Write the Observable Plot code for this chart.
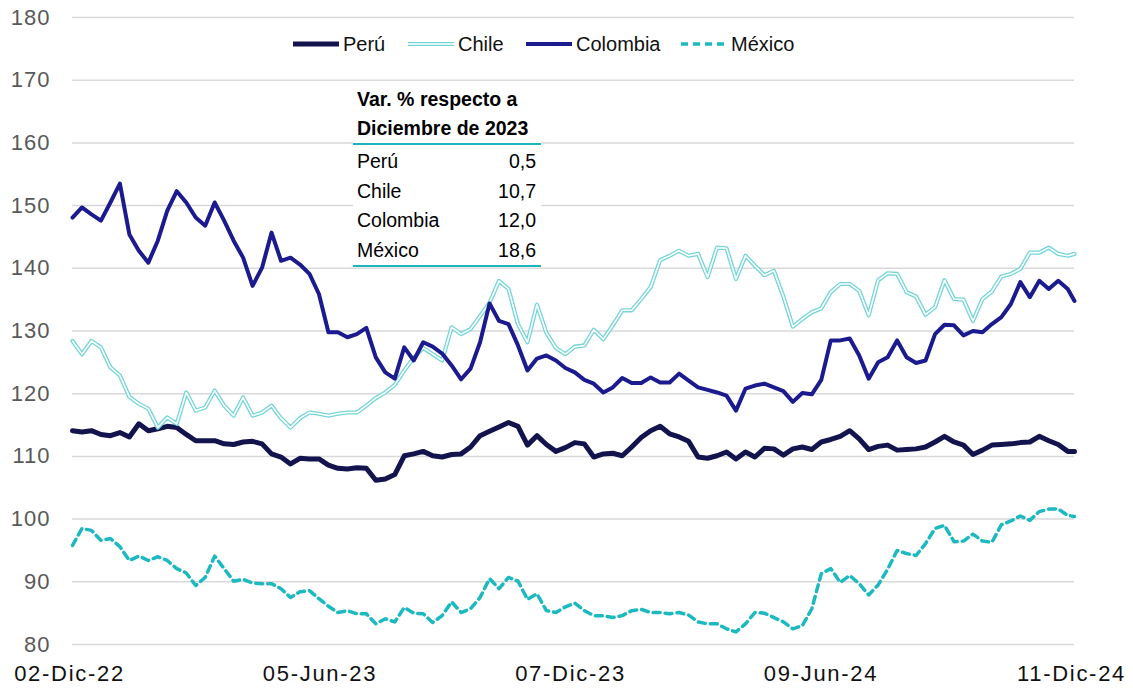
<!DOCTYPE html>
<html>
<head>
<meta charset="utf-8">
<script src="https://cdn.jsdelivr.net/npm/d3@7"></script>
<script src="https://cdn.jsdelivr.net/npm/@observablehq/plot@0.6"></script>
<style>
  body { margin: 0; background: #fff; font-family: "Liberation Sans", Arial, sans-serif; }
  #wrap { position: relative; width: 1133px; height: 688px; overflow: hidden; }
  #legend { position: absolute; top: 31px; left: 0; height: 26px; width: 1133px; }
  .li { position: absolute; top: 0; height: 26px; display: flex; align-items: center; font-size: 20px; color: #111; }
  .li svg { margin-right: 4px; }
  #tabla { position: absolute; left: 353px; top: 85px; width: 188px; background: #fff; color: #000; font-size: 19.5px; }
  #tabla .tit { font-weight: bold; line-height: 29px; padding-left: 4px; border-bottom: 2px solid #1CB5BD; }
  #tabla .rows { padding-top: 2px; border-bottom: 2px solid #1CB5BD; }
  #tabla .row { display: flex; justify-content: space-between; line-height: 29.5px; padding: 0 5px 0 4px; }
  svg g[aria-label="y-axis tick label"] text { fill: #595959; letter-spacing: 1px; }
  svg g[aria-label="x-axis tick label"] text { fill: #111; letter-spacing: 1.7px; }
</style>
</head>
<body>
<div id="wrap">
  <div id="chart"></div>
  <div id="legend"></div>
  <div id="tabla"></div>
</div>
<script>
// ---- Data (weekly readings from 02-Dic-22, plus final point 11-Dic-24) ----
const startDate = "2022-12-02";
const endDate = "2024-12-11";

const peru = [114.1,113.9,114.1,113.5,113.3,113.8,113.1,115.2,114.1,114.4,
  114.8,114.6,113.5,112.5,112.5,112.5,112.0,111.9,112.3,112.4,
  112.0,110.4,109.9,108.8,109.7,109.6,109.6,108.6,108.1,108.0,
  108.2,108.1,106.2,106.4,107.1,110.1,110.4,110.8,110.1,109.9,
  110.3,110.4,111.5,113.3,114.0,114.7,115.4,114.8,111.8,113.3,
  111.9,110.8,111.4,112.2,112.0,109.9,110.4,110.5,110.1,111.5,
  113.0,114.1,114.8,113.6,113.1,112.4,109.9,109.7,110.1,110.7,
  109.6,110.7,109.9,111.3,111.2,110.2,111.2,111.5,111.1,112.3,
  112.7,113.2,114.1,112.8,111.1,111.6,111.8,111.0,111.1,111.2,
  111.5,112.3,113.2,112.3,111.8,110.3,111.0,111.8,111.9,112.0,
  112.2,112.3,113.2,112.5,111.9,110.8,110.8];

const chile = [128.4,126.3,128.4,127.4,124.2,122.9,119.5,118.4,117.6,114.6,
  116.2,115.2,120.2,117.3,117.8,120.5,118.1,116.5,119.4,116.5,
  117.0,118.1,116.1,114.6,116.1,117.0,116.8,116.5,116.8,117.0,
  117.0,118.1,119.3,120.2,121.4,123.7,125.7,127.3,126.3,125.3,
  130.6,129.5,130.3,132.4,134.5,138.0,136.7,131.1,128.2,134.2,
  129.7,127.3,126.3,127.5,127.7,130.2,128.7,130.9,133.3,133.3,
  135.1,137.0,141.3,142.0,142.8,142.0,142.3,138.6,143.3,143.2,
  138.3,142.0,140.4,138.9,139.6,135.5,130.7,131.9,133.0,133.6,
  136.2,137.5,137.5,136.4,132.5,138.1,139.2,139.1,136.2,135.5,
  132.6,133.8,138.1,135.1,135.0,131.6,135.1,136.3,138.7,139.1,
  139.9,142.5,142.5,143.3,142.3,142.0,142.3];

const colombia = [148.1,149.7,148.6,147.6,150.5,153.5,145.4,142.8,140.9,144.4,
  149.2,152.3,150.5,148.1,146.8,150.5,147.6,144.4,141.7,137.2,
  140.1,145.7,141.2,141.7,140.6,139.1,135.9,129.8,129.8,129.0,
  129.5,130.5,125.8,123.4,122.4,127.4,125.3,128.2,127.5,126.4,
  124.5,122.3,124.0,128.2,134.4,131.6,131.1,127.7,123.7,125.6,
  126.1,125.3,124.1,123.4,122.2,121.6,120.2,121.0,122.5,121.7,
  121.7,122.6,121.8,121.8,123.2,122.1,121.0,120.6,120.2,119.7,
  117.3,120.8,121.3,121.6,121.0,120.4,118.7,120.1,119.9,122.2,
  128.5,128.5,128.8,126.1,122.4,125.0,125.8,128.5,125.8,124.9,
  125.3,129.5,131.0,130.9,129.3,130.0,129.8,131.1,132.2,134.3,
  137.8,135.4,138.0,136.7,138.0,136.7,134.8];

const mexico = [95.8,98.5,98.2,96.6,96.9,95.6,93.4,94.1,93.4,94.0,
  93.4,92.1,91.4,89.4,90.7,94.1,92.1,90.1,90.4,89.8,
  89.7,89.7,88.9,87.5,88.4,88.6,87.3,86.1,85.1,85.4,
  84.9,84.9,83.3,84.1,83.6,85.9,85.0,84.9,83.5,84.6,
  86.8,85.1,85.7,87.5,90.5,88.9,90.7,90.1,87.2,88.1,
  85.4,85.1,86.0,86.6,85.4,84.6,84.6,84.3,84.6,85.4,
  85.6,85.1,85.1,84.9,85.1,84.7,83.6,83.3,83.3,82.5,
  82.0,83.3,85.1,85.0,84.3,83.6,82.5,83.0,85.7,91.3,
  92.1,89.9,91.0,89.7,87.9,89.5,92.0,95.0,94.5,94.2,
  96.1,98.5,99.0,96.4,96.5,97.6,96.5,96.3,99.1,99.7,
  100.5,99.8,101.2,101.6,101.6,100.6,100.4];

const xTickDates = ["2022-12-02","2023-06-05","2023-12-07","2024-06-09","2024-12-11"];
const xTickLabels = ["02-Dic-22","05-Jun-23","07-Dic-23","09-Jun-24","11-Dic-24"];
const yTicks = [80,90,100,110,120,130,140,150,160,170,180];

const seriesNames = ["Perú","Chile","Colombia","México"];
const tablaTitulo = ["Var. % respecto a","Diciembre de 2023"];
const tablaValores = ["0,5","10,7","12,0","18,6"];

// ---- Build table ----
const weekly = d3.utcDay.range(new Date(startDate), d3.utcDay.offset(new Date(endDate), -4), 7);
const fechas = [...weekly, new Date(endDate)];
const mk = (vals, name) => vals.map((v, i) => ({fecha: fechas[i], valor: v, serie: name}));
const dPeru = mk(peru, "Perú");
const dChile = mk(chile, "Chile");
const dColombia = mk(colombia, "Colombia");
const dMexico = mk(mexico, "México");

const colors = {"Perú": "#13134D", "Chile": "#74D5D9", "Colombia": "#1B1B8F", "México": "#1CB9C0"};
const labelMap = new Map(xTickDates.map((d, i) => [d, xTickLabels[i]]));

const chart = Plot.plot({
  width: 1133,
  height: 688,
  marginLeft: 72,
  marginRight: 59,
  marginTop: 17,
  marginBottom: 44,
  style: {fontFamily: "Liberation Sans, Arial, sans-serif", background: "#fff", overflow: "visible"},
  x: {type: "utc", domain: [new Date(startDate), new Date(endDate)], label: null},
  y: {domain: [80, 180], label: null},
  marks: [
    Plot.gridY(yTicks, {stroke: "#d9d9d9", strokeOpacity: 1, strokeWidth: 1.5}),
    Plot.axisY(yTicks, {tickSize: 0, tickPadding: 22, fontSize: 22, color: "#595959", label: null}),
    Plot.axisX(xTickDates.map(d => new Date(d)), {
      tickSize: 0, tickPadding: 21, fontSize: 22, color: "#111", label: null, dx: -3,
      tickFormat: d => labelMap.get(d.toISOString().slice(0, 10))
    }),
    Plot.lineY(dPeru, {x: "fecha", y: "valor", stroke: colors["Perú"], strokeWidth: 5, strokeLinejoin: "round"}),
    Plot.lineY(dChile, {x: "fecha", y: "valor", stroke: colors["Chile"], strokeWidth: 4.2, strokeLinejoin: "round"}),
    Plot.lineY(dChile, {x: "fecha", y: "valor", stroke: "#ffffff", strokeWidth: 1.6, strokeLinejoin: "round"}),
    Plot.lineY(dColombia, {x: "fecha", y: "valor", stroke: colors["Colombia"], strokeWidth: 4, strokeLinejoin: "round"}),
    Plot.lineY(dMexico, {x: "fecha", y: "valor", stroke: colors["México"], strokeWidth: 3.5, strokeDasharray: "7,5"})
  ]
});
document.getElementById("chart").appendChild(chart);

// ---- Legend ----
const legendPos = [{line: 293, name: "Perú"}, {line: 408, name: "Chile"}, {line: 526, name: "Colombia"}, {line: 681, name: "México"}];
const legend = document.getElementById("legend");
legendPos.forEach(p => {
  const div = document.createElement("div");
  div.className = "li";
  div.style.left = p.line + "px";
  let sw;
  if (p.name === "Chile") {
    sw = `<svg width="46" height="10"><line x1="0" x2="46" y1="5" y2="5" stroke="${colors.Chile}" stroke-width="4.2"/><line x1="0" x2="46" y1="5" y2="5" stroke="#fff" stroke-width="1.6"/></svg>`;
  } else if (p.name === "México") {
    sw = `<svg width="46" height="10"><line x1="0" x2="46" y1="5" y2="5" stroke="${colors["México"]}" stroke-width="3.5" stroke-dasharray="7,5"/></svg>`;
  } else {
    sw = `<svg width="46" height="10"><line x1="0" x2="46" y1="5" y2="5" stroke="${colors[p.name]}" stroke-width="${p.name === "Perú" ? 5 : 4}"/></svg>`;
  }
  div.innerHTML = sw + `<span>${p.name}</span>`;
  legend.appendChild(div);
});

// ---- Table ----
const tabla = document.getElementById("tabla");
tabla.innerHTML = `<div class="tit">${tablaTitulo.join("<br>")}</div>` +
  `<div class="rows">` + seriesNames.map((n, i) => `<div class="row"><span>${n}</span><span>${tablaValores[i]}</span></div>`).join("") + `</div>`;
</script>
</body>
</html>
